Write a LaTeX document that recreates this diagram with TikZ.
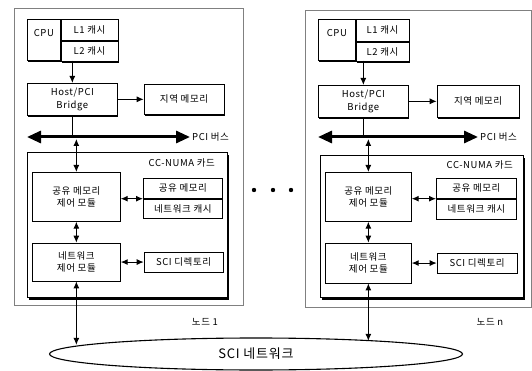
\documentclass[tikz,border=0pt]{standalone}
\usepackage{fontspec}
\setmainfont{Noto Sans CJK KR}[LetterSpace=6]
\usetikzlibrary{shapes.geometric, arrows.meta, positioning, shadows}

\begin{document}
\begin{tikzpicture}[
    x=1pt, y=-1pt,
    node distance=20pt and 24pt,
    nodebox/.style={draw=black!50, line width=0.7pt, rectangle, inner sep=0pt},
    cellbox/.style={draw, line width=0.7pt, rectangle, fill=white, align=center, inner sep=2pt, font=\fontsize{9.5}{12.5}\selectfont},
    heavybox/.style={cellbox, drop shadow={shadow xshift=1pt, shadow yshift=-1.5pt, fill=black, opacity=1}},
    cardbox/.style={draw, line width=1.1pt, fill=white, rectangle, inner sep=0pt, drop shadow={shadow xshift=1.8pt, shadow yshift=-2.2pt, fill=black, opacity=1}},
    tagtext/.style={font=\fontsize{9.5}{11}\selectfont, inner sep=1pt},
    arrow/.style={-{Latex[length=7pt,width=6pt]}, line width=1pt},
    darrow/.style={{Latex[length=7pt,width=6pt]}-{Latex[length=7pt,width=6pt]}, line width=1pt},
    busline/.style={{Triangle[length=14pt,width=12pt]}-{Triangle[length=14pt,width=12pt]}, line width=3pt},
    netring/.style={ellipse, draw, line width=1.1pt, minimum width=413pt, minimum height=32pt, inner sep=0pt, font=\fontsize{13}{15}\selectfont}
]
\useasboundingbox (0,0) rectangle (532,371);

% Node 1
\node (nd1) [nodebox, anchor=north west, minimum width=229pt, minimum height=297pt] at (14,8) {};
\node (cpu1) [heavybox, anchor=north west, minimum width=33pt, minimum height=41pt, text depth=14pt] at (27,19) {CPU};
\node (l1c1) [cellbox, anchor=north west, minimum width=57pt, minimum height=21pt] at (cpu1.north east) {L1 캐시};
\node (l2c1) [heavybox, below=0pt of l1c1, minimum width=57pt, minimum height=20pt] {L2 캐시};
\node (br1) [heavybox, anchor=north west, minimum width=90pt, minimum height=32pt] at (27,83) {Host/PCI\\Bridge};
\node (mem1) [heavybox, right=26pt of br1, minimum width=80pt, minimum height=30pt] {지역 메모리};
\coordinate (bus1w) at (27,137);
\coordinate (bus1e) at (190,137);
\node (pci1) [tagtext, right=1pt of bus1e] {PCI 버스};

% CC-NUMA card of node 1
\node (card1) [cardbox, anchor=north west, minimum width=200pt, minimum height=145pt] at (27,152) {};
\node (cc1) [tagtext, anchor=north east] at ([xshift=-12pt, yshift=-5pt]card1.north east) {CC-NUMA 카드};
\node (smc1) [cellbox, anchor=north west, minimum width=88pt, minimum height=49pt] at (32,172) {공유 메모리\\제어 모듈};
\node (shm1) [cellbox, anchor=north west, minimum width=79pt, minimum height=20pt] at (143,178) {공유 메모리};
\node (nc1) [cellbox, below=0pt of shm1, minimum width=79pt, minimum height=19pt] {네트워크 캐시};
\node (ncm1) [cellbox, below=21pt of smc1, minimum width=88pt, minimum height=38pt] {네트워크\\제어 모듈};
\node (dir1) [cellbox, right=23pt of ncm1, minimum width=79pt, minimum height=20pt] {SCI 디렉토리};
\node (lbl1) [tagtext] at (205,322) {노드 1};

% Node n
\node (ndn) [nodebox, anchor=north west, minimum width=226pt, minimum height=297pt] at (305,10) {};
\node (cpun) [heavybox, anchor=north west, minimum width=37pt, minimum height=41pt, text depth=14pt] at (318,19) {CPU};
\node (l1cn) [cellbox, anchor=north west, minimum width=53pt, minimum height=22pt] at (cpun.north east) {L1 캐시};
\node (l2cn) [heavybox, below=0pt of l1cn, minimum width=53pt, minimum height=19pt] {L2 캐시};
\node (brn) [heavybox, anchor=north west, minimum width=90pt, minimum height=32pt] at (318,85) {Host/PCI\\Bridge};
\node (memn) [heavybox, right=28pt of brn, minimum width=82pt, minimum height=32pt] {지역 메모리};
\coordinate (busnw) at (318,137);
\coordinate (busne) at (478,137);
\node (pcin) [tagtext, right=1pt of busne] {PCI 버스};

% CC-NUMA card of node n
\node (cardn) [cardbox, anchor=north west, minimum width=203pt, minimum height=142pt] at (320,155) {};
\node (ccn) [tagtext, anchor=north east] at ([xshift=-10pt, yshift=-4pt]cardn.north east) {CC-NUMA 카드};
\node (smcn) [cellbox, anchor=north west, minimum width=86pt, minimum height=49pt] at (325,172) {공유 메모리\\제어 모듈};
\node (shmn) [cellbox, anchor=north west, minimum width=80pt, minimum height=20pt] at (436,178) {공유 메모리};
\node (ncn) [cellbox, below=0pt of shmn, minimum width=80pt, minimum height=20pt] {네트워크 캐시};
\node (ncmn) [cellbox, below=21pt of smcn, minimum width=86pt, minimum height=40pt] {네트워크\\제어 모듈};
\node (dirn) [cellbox, right=25pt of ncmn, minimum width=80pt, minimum height=20pt] {SCI 디렉토리};
\node (lbln) [tagtext] at (490,322) {노드 n};

% SCI network
\node (sci) [netring] at (256,354) {SCI 네트워크};

% dots between the nodes
\foreach \x in {254,273,291}
    \fill (\x,190) circle (2.2pt);

% Connections, node 1
\draw [arrow] (cpu1.south -| br1) -- (br1);
\draw [arrow] (br1) -- (mem1);
\draw [line width=1pt] (br1) -- (br1 |- bus1w);
\draw [busline] (bus1w) -- (bus1e);
\draw [darrow] ([yshift=-2pt]smc1 |- bus1w) -- (smc1);
\draw [darrow] (smc1.east |- nc1.north) -- (nc1.north west);
\draw [darrow] (smc1) -- (ncm1);
\draw [darrow] (ncm1) -- (dir1);
\draw [darrow] (ncm1) -- (ncm1 |- sci.177.5);

% Connections, node n
\draw [arrow] (cpun.south -| brn) -- (brn);
\draw [arrow] (brn) -- (memn);
\draw [line width=1pt] (brn) -- (brn |- busnw);
\draw [busline] (busnw) -- (busne);
\draw [darrow] ([yshift=-2pt]smcn |- busnw) -- (smcn);
\draw [darrow] (smcn.east |- ncn.north) -- (ncn.north west);
\draw [darrow] (smcn) -- (ncmn);
\draw [darrow] (ncmn) -- (dirn);
\draw [darrow] (ncmn) -- (ncmn |- sci.6.8);

\end{tikzpicture}
\end{document}
